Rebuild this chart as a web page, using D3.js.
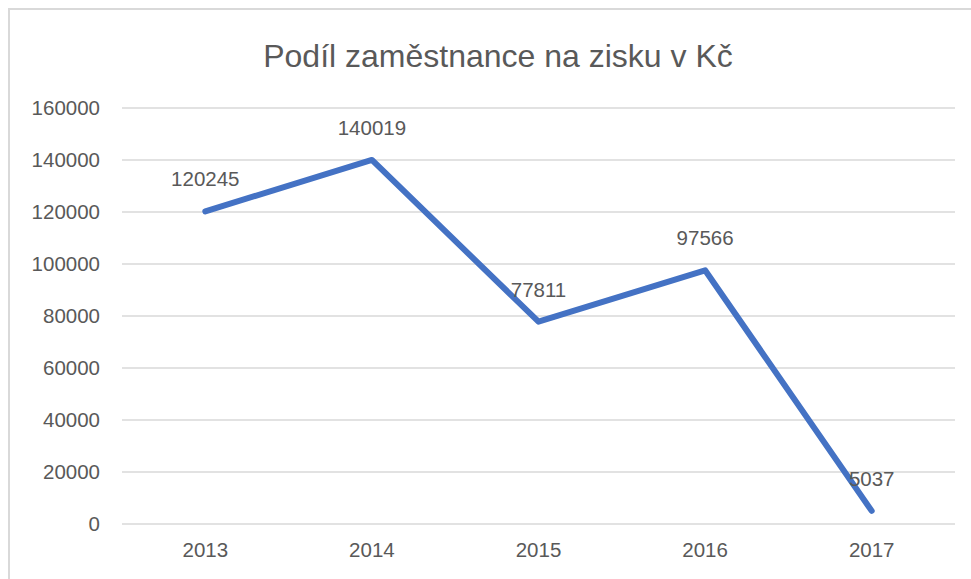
<!DOCTYPE html>
<html>
<head>
<meta charset="utf-8">
<script src="https://cdn.jsdelivr.net/npm/d3@7"></script>
<style>
  html, body { margin: 0; padding: 0; background: #fff; }
  svg { display: block; }
  text { font-family: "Liberation Sans", Arial, sans-serif; fill: #595959; }
</style>
</head>
<body>
<svg id="chart" width="971" height="579"></svg>
<script>
const title = "Podíl zaměstnance na zisku v Kč";
const years = ["2013", "2014", "2015", "2016", "2017"];
const values = [120245, 140019, 77811, 97566, 5037];
const yTicks = [0, 20000, 40000, 60000, 80000, 100000, 120000, 140000, 160000];

const svg = d3.select("#chart");
const W = 971, H = 579;
const margin = { left: 122, right: 16, top: 108, bottom: 55 };

// outer frame
svg.append("path")
  .attr("d", `M9,${H} L9,9 L${W},9`)
  .attr("fill", "none")
  .attr("stroke", "#d9d9d9")
  .attr("stroke-width", 2);

const x = d3.scaleBand().domain(years).range([margin.left, W - margin.right]);
const y = d3.scaleLinear().domain([0, 160000]).range([H - margin.bottom, margin.top]);

// gridlines
svg.append("g").selectAll("line").data(yTicks).join("line")
  .attr("x1", margin.left).attr("x2", W - margin.right)
  .attr("y1", d => y(d)).attr("y2", d => y(d))
  .attr("stroke", "#d9d9d9").attr("stroke-width", 1.5);

// y axis labels
const yAxis = d3.axisLeft(y).tickValues(yTicks).tickSize(0).tickPadding(22).tickFormat(d3.format("d"));
const gy = svg.append("g").attr("transform", `translate(${margin.left},0)`).call(yAxis);
gy.select(".domain").remove();
gy.selectAll("text").style("font-size", "20.5px").attr("fill", "#595959")
  .style("font-family", '"Liberation Sans", Arial, sans-serif');

// x axis labels
const xAxis = d3.axisBottom(x).tickSize(0).tickPadding(18);
const gx = svg.append("g").attr("transform", `translate(0,${y(0)})`).call(xAxis);
gx.select(".domain").remove();
gx.selectAll("text").style("font-size", "20.5px").attr("fill", "#595959")
  .style("font-family", '"Liberation Sans", Arial, sans-serif');

// line
const line = d3.line()
  .x((d, i) => x(years[i]) + x.bandwidth() / 2)
  .y(d => y(d));
svg.append("path")
  .datum(values)
  .attr("d", line)
  .attr("fill", "none")
  .attr("stroke", "#4472C4")
  .attr("stroke-width", 6)
  .attr("stroke-linecap", "round")
  .attr("stroke-linejoin", "round");

// data labels
svg.append("g").selectAll("text").data(values).join("text")
  .attr("x", (d, i) => x(years[i]) + x.bandwidth() / 2)
  .attr("y", d => y(d) - 25)
  .attr("text-anchor", "middle")
  .style("font-size", "20.5px")
  .text(d => d);

// title
svg.append("text")
  .attr("x", 498).attr("y", 67)
  .attr("text-anchor", "middle")
  .style("font-size", "32px")
  .text(title);
</script>
</body>
</html>
